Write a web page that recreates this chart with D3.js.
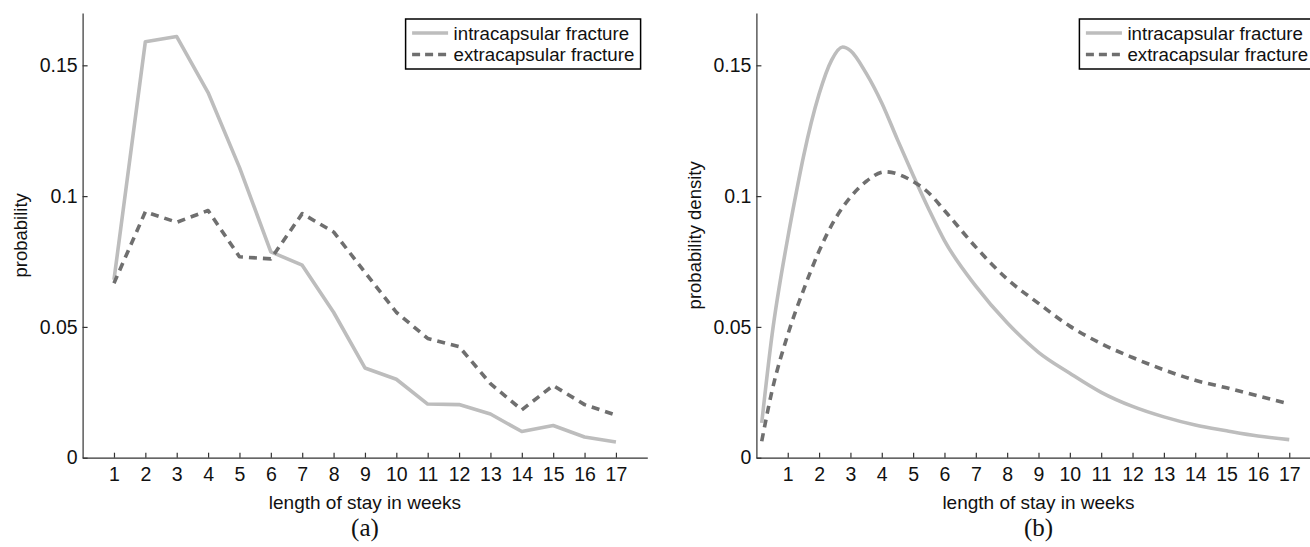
<!DOCTYPE html>
<html>
<head>
<meta charset="utf-8">
<script src="https://cdn.jsdelivr.net/npm/d3@7"></script>
<style>
    body { margin: 0; background: #fff; }
    svg { display: block; }
    text { font-family: "Liberation Sans", Arial, Helvetica, sans-serif; }
</style>
</head>
<body>
<svg id="chart" width="1310" height="547"></svg>
<script>
const weeks = [1, 2, 3, 4, 5, 6, 7, 8, 9, 10, 11, 12, 13, 14, 15, 16, 17];
const intraProb = [0.068, 0.159, 0.161, 0.1396, 0.111, 0.0787, 0.0736, 0.0556, 0.0343, 0.030, 0.0205, 0.0203, 0.0167, 0.0100, 0.0123, 0.0079, 0.0060];
const extraProb = [0.0667, 0.094, 0.090, 0.0945, 0.0768, 0.076, 0.0933, 0.0863, 0.0709, 0.0556, 0.0456, 0.0425, 0.0283, 0.0183, 0.0276, 0.0203, 0.0163];

const intraDensX = [0.17, 0.5, 1, 1.25, 1.5, 2, 2.4, 2.75, 3, 3.5, 4, 4.5, 5, 5.5, 6, 7, 8, 9, 10, 11, 12, 13, 14, 15, 16, 17];
const intraDensY = [0.0133, 0.047, 0.084, 0.1, 0.115, 0.139, 0.152, 0.157, 0.1556, 0.147, 0.1356, 0.1216, 0.108, 0.095, 0.083, 0.0656, 0.0516, 0.0403, 0.0323, 0.025, 0.0196, 0.0156, 0.0125, 0.0103, 0.0083, 0.0069];
const extraDensX = [0.17, 0.5, 1, 1.5, 2, 2.5, 3, 3.5, 4.1, 5, 5.5, 6, 7, 8, 9, 10, 11, 12, 13, 14, 15, 16, 17];
const extraDensY = [0.0063, 0.0256, 0.047, 0.064, 0.079, 0.091, 0.0996, 0.1056, 0.1093, 0.1056, 0.1012, 0.0945, 0.0805, 0.0683, 0.059, 0.0503, 0.0436, 0.0383, 0.0336, 0.0296, 0.0267, 0.0236, 0.0206];

const yTicks = [0, 0.05, 0.1, 0.15];
const seriesNames = ["intracapsular fracture", "extracapsular fracture"];

const svg = d3.select("#chart");
const plotTop = 13, plotBottom = 457.7;
const y = d3.scaleLinear().domain([0, 0.17]).range([plotBottom, plotTop]);

const styles = [
    { stroke: "#bdbdbd", dash: null },
    { stroke: "#6f6f6f", dash: "8,6" }
];

function drawPanel(left, right, yLabel, tag, series, curve) {
    const x = d3.scaleLinear().domain([0, 18]).range([left, right]);
    const g = svg.append("g");

    const line = d3.line().x(d => x(d[0])).y(d => y(d[1])).curve(curve);
    series.forEach((s, i) => {
        g.append("path")
            .datum(d3.zip(s.xs, s.ys))
            .attr("fill", "none")
            .attr("stroke", styles[i].stroke)
            .attr("stroke-width", 3.6)
            .attr("stroke-dasharray", styles[i].dash)
            .attr("stroke-linejoin", "round")
            .attr("d", line);
    });

    const xAxis = g.append("g")
        .attr("transform", `translate(0,${plotBottom})`)
        .call(d3.axisBottom(x).tickValues(weeks).tickSize(-5).tickSizeOuter(0).tickPadding(9));
    const yAxis = g.append("g")
        .attr("transform", `translate(${left},0)`)
        .call(d3.axisLeft(y).tickValues(yTicks).tickSize(-5).tickSizeOuter(0).tickPadding(5)
            .tickFormat(d => String(d)));

    [xAxis, yAxis].forEach(a => {
        a.selectAll("path, line").attr("stroke", "#333").attr("stroke-width", 1.2);
        a.selectAll("text")
            .attr("fill", "#111")
            .style("font-size", "19.5px")
            .style("font-family", "\"Liberation Sans\", Arial, sans-serif");
    });

    g.append("text")
        .attr("transform", `translate(${left - 62},${(plotTop + plotBottom) / 2}) rotate(-90)`)
        .attr("text-anchor", "middle")
        .attr("dy", "0.35em")
        .style("font-size", "18.5px")
        .attr("fill", "#111")
        .text(yLabel);

    g.append("text")
        .attr("x", x(9))
        .attr("y", 502)
        .attr("text-anchor", "middle")
        .attr("dy", "0.35em")
        .style("font-size", "19px")
        .attr("fill", "#111")
        .text("length of stay in weeks");

    g.append("text")
        .attr("x", x(9))
        .attr("y", 536)
        .attr("text-anchor", "middle")
        .style("font-family", "\"Liberation Serif\", \"Times New Roman\", serif")
        .style("font-size", "25px")
        .attr("fill", "#111")
        .text(tag);

    // legend
    const lx = left + 323, ly = 19;
    const legend = g.append("g").attr("transform", `translate(${lx},${ly})`);
    legend.append("rect")
        .attr("width", 235).attr("height", 50)
        .attr("fill", "#fff")
        .attr("stroke", "#000")
        .attr("stroke-width", 1.5);
    seriesNames.forEach((name, i) => {
        const ry = 14 + i * 21.5;
        legend.append("line")
            .attr("x1", 6.5).attr("x2", 42.5)
            .attr("y1", ry).attr("y2", ry)
            .attr("stroke", styles[i].stroke)
            .attr("stroke-width", 3.6)
            .attr("stroke-dasharray", styles[i].dash ? "8,5" : null);
        legend.append("text")
            .attr("x", 48).attr("y", ry)
            .attr("dy", "0.35em")
            .style("font-size", "18.7px")
            .attr("fill", "#111")
            .text(name);
    });
}

drawPanel(82.6, 647.3, "probability", "(a)", [
    { xs: weeks, ys: intraProb },
    { xs: weeks, ys: extraProb }
], d3.curveLinear);

drawPanel(756.4, 1320.6, "probability density", "(b)", [
    { xs: intraDensX, ys: intraDensY },
    { xs: extraDensX, ys: extraDensY }
], d3.curveMonotoneX);
</script>
</body>
</html>
